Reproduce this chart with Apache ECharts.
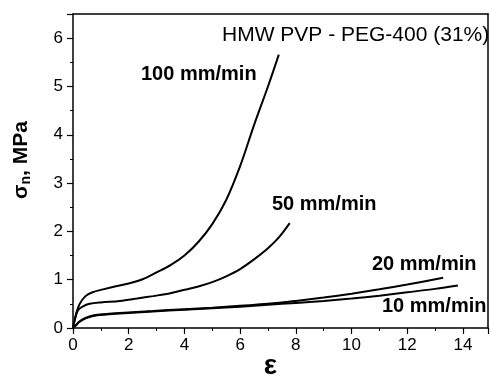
<!DOCTYPE html>
<html>
<head>
<meta charset="utf-8">
<script src="https://cdn.jsdelivr.net/npm/echarts@6/dist/echarts.min.js"></script>
<style>
html,body{margin:0;padding:0;background:#fff;}
#c{width:491px;height:376px;}
</style>
</head>
<body>
<div id="c"></div>
<script>
// Data (strain ε, stress σn in MPa)
const rate100 = [[0,0],[0.1,0.27],[0.24,0.5],[0.45,0.66],[0.7,0.74],[1.08,0.8],[1.5,0.86],[2,0.92],[2.5,1.01],[3,1.15],[3.5,1.3],[4,1.5],[4.5,1.78],[5,2.15],[5.5,2.65],[6,3.35],[6.5,4.2],[7,5.0],[7.39,5.66]];
const rate50 = [[0,0],[0.08,0.2],[0.18,0.37],[0.36,0.45],[0.6,0.5],[1.0,0.53],[1.68,0.56],[2.3,0.61],[2.87,0.66],[3.5,0.72],[4,0.79],[4.5,0.86],[5,0.95],[5.5,1.07],[6,1.22],[6.5,1.42],[7,1.65],[7.4,1.88],[7.78,2.17]];
const rate20 = [[0,0],[0.1,0.06],[0.24,0.14],[0.45,0.21],[0.72,0.26],[1.2,0.29],[1.68,0.31],[2.87,0.35],[4,0.39],[5,0.42],[6,0.46],[7,0.5],[8,0.56],[9,0.63],[10,0.71],[11,0.8],[12,0.9],[13.29,1.04]];
const rate10 = [[0,0],[0.1,0.05],[0.24,0.13],[0.45,0.2],[0.72,0.25],[1.2,0.28],[1.68,0.3],[2.87,0.34],[4,0.38],[5,0.41],[6,0.44],[7,0.48],[8,0.52],[9,0.56],[10,0.61],[11,0.67],[12,0.74],[13,0.81],[13.82,0.88]];
const seriesNames = ['100 mm/min','50 mm/min','20 mm/min','10 mm/min'];
const titleText = 'HMW PVP - PEG-400 (31%)';

const chart = echarts.init(document.getElementById('c'), null, {renderer:'canvas'});
const F = 'Liberation Sans, Arial, sans-serif';
function mkSeries(name, data){
  return {name, type:'line', data, smooth:0.35, showSymbol:false, symbol:'none',
    lineStyle:{color:'#000', width:2}, animation:false};
}
const axisCommon = {
  axisLine:{show:true, onZero:false, lineStyle:{color:'#000', width:1.5}},
  axisTick:{show:true, inside:false, length:6, lineStyle:{color:'#000', width:1.2}},
  minorTick:{show:true, splitNumber:2, length:3, lineStyle:{color:'#000', width:1}},
  splitLine:{show:false},
  axisLabel:{color:'#000', fontFamily:F, fontSize:17}
};
const borderAxis = {
  type:'value', axisLine:{show:true, onZero:false, lineStyle:{color:'#000', width:1.5}},
  axisTick:{show:false}, minorTick:{show:false}, axisLabel:{show:false}, splitLine:{show:false}
};
chart.setOption({
  backgroundColor:'#fff',
  animation:false,
  grid:{left:73, right:3, top:14, bottom:48, containLabel:false, outerBoundsMode:'none'},
  xAxis:[Object.assign({}, axisCommon, {
    type:'value', min:0, max:14.9, interval:2,
    axisLabel:Object.assign({}, axisCommon.axisLabel, {margin:9, showMaxLabel:false,
      formatter:v=> (v%2===0 && v<=14) ? String(v) : ''}),
    name:'ε', nameLocation:'middle', nameGap:24, nameMoveOverlap:false,
    nameTextStyle:{fontFamily:F, fontWeight:'bold', fontSize:28, color:'#000', padding:[0,20,0,0]}
  }), Object.assign({}, borderAxis, {position:'top', min:0, max:14.9})],
  yAxis:[Object.assign({}, axisCommon, {
    type:'value', min:0, max:6.5, interval:1,
    axisLabel:Object.assign({}, axisCommon.axisLabel, {margin:10, showMaxLabel:false,
      formatter:v=> (Number.isInteger(v)) ? String(v) : ''}),
    name:'{a|σ}{s|n}{a|, MPa}', nameLocation:'middle', nameGap:40, nameRotate:90, nameMoveOverlap:false,
    nameTextStyle:{color:'#000', padding:[0,0,0,22],
      rich:{a:{fontFamily:F, fontWeight:'bold', fontSize:21, color:'#000'},
            s:{fontFamily:F, fontWeight:'bold', fontSize:14, color:'#000', padding:[10,0,0,0]}}}
  }), Object.assign({}, borderAxis, {position:'right', min:0, max:6.5})],
  series:[mkSeries(seriesNames[0], rate100), mkSeries(seriesNames[1], rate50), mkSeries(seriesNames[2], rate20), mkSeries(seriesNames[3], rate10)],
  graphic:[
    {type:'text', left:222, top:25, style:{text:titleText, fontFamily:F, fontSize:21, fill:'#000'}},
    {type:'text', left:141, top:64, style:{text:seriesNames[0], fontFamily:F, fontWeight:'bold', fontSize:20, fill:'#000'}},
    {type:'text', left:272, top:194, style:{text:seriesNames[1], fontFamily:F, fontWeight:'bold', fontSize:20, fill:'#000'}},
    {type:'text', left:372, top:254, style:{text:seriesNames[2], fontFamily:F, fontWeight:'bold', fontSize:20, fill:'#000'}},
    {type:'text', left:382, top:296, style:{text:seriesNames[3], fontFamily:F, fontWeight:'bold', fontSize:20, fill:'#000'}}
  ]
});
</script>
</body>
</html>
